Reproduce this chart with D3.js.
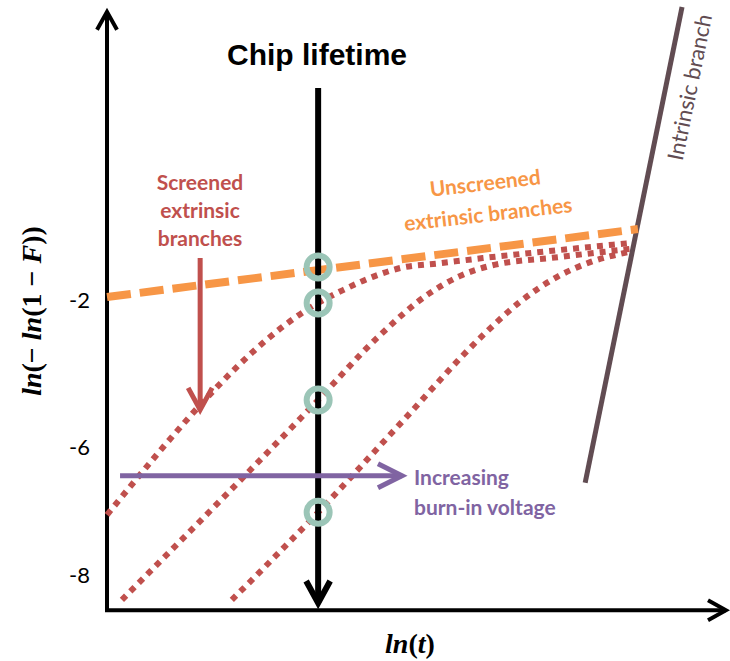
<!DOCTYPE html>
<html>
<head>
<meta charset="utf-8">
<script src="https://cdn.jsdelivr.net/npm/d3@7"></script>
<style>
  body { margin: 0; background: #fff; }
</style>
</head>
<body>
<svg id="drawing_region"></svg>
<script>
// y tick labels
const yTicks = [-2, -6, -8];

// axis extents in data units (ln t, ln(-ln(1-F)))
const tRange = [0, 10];
const yRange = [-8.55, 5.95];

// unscreened extrinsic branch (dashed orange)
const unscreened = [
    {t: 0.00, y: -1.92},
    {t: 8.55, y: -0.07}
];

// screened extrinsic branches (red dotted), one per burn-in voltage
const screened1 = [
    {t: 0.00, y: -7.06}, {t: 3.40, y: -2.08}, {t: 3.80, y: -1.73},
    {t: 4.28, y: -1.37}, {t: 4.72, y: -1.13}, {t: 5.36, y: -1.00},
    {t: 6.05, y: -0.86}, {t: 7.29, y: -0.64}, {t: 8.42, y: -0.45}
];
const screened2 = [
    {t: 0.24, y: -8.39}, {t: 3.40, y: -4.72}, {t: 4.35, y: -3.03},
    {t: 5.20, y: -1.81}, {t: 5.68, y: -1.35}, {t: 6.17, y: -1.07},
    {t: 7.29, y: -0.83}, {t: 8.42, y: -0.61}
];
const screened3 = [
    {t: 2.01, y: -8.39}, {t: 3.40, y: -7.02}, {t: 4.72, y: -5.37},
    {t: 6.09, y: -2.90}, {t: 6.65, y: -2.05}, {t: 7.25, y: -1.37},
    {t: 7.78, y: -0.97}, {t: 8.42, y: -0.69}
];

// intrinsic branch
const intrinsic = [
    {t: 7.70, y: -6.56},
    {t: 9.26, y: 5.97}
];

// chip lifetime and where the branches cross it
const chipLifetime = 3.40;
const chipSpan = [3.77, -8.50];
const crossings = [-1.10, -2.08, -4.72, -7.02];

// annotation arrows
const screenArrow = [{t: 1.50, y: -0.86}, {t: 1.50, y: -4.99}];
const voltageArrow = [{t: 0.21, y: -6.45}, {t: 4.75, y: -6.45}];

class SchematicChart {

    constructor( config ) {
        this.config = {
            parent: config.parent,
            width: config.width || 730,
            height: config.height || 661
        }
        this.init();
    }

    init() {
        let self = this;

        self.svg = d3.select(self.config.parent)
            .attr('width', self.config.width)
            .attr('height', self.config.height);

        self.xscale = d3.scaleLinear()
            .domain(tRange)
            .range([107, 728]);

        // the source axis is not evenly spaced: -8..-6 is stretched
        self.yscale = d3.scaleLinear()
            .domain([-8, -6, 6])
            .range([575, 447, 6]);

        self.line = d3.line()
            .x(d => self.xscale(d.t))
            .y(d => self.yscale(d.y));

        self.curve = d3.line()
            .x(d => self.xscale(d.t))
            .y(d => self.yscale(d.y))
            .curve(d3.curveMonotoneX);

        let defs = self.svg.append('defs');
        const heads = [
            {id: 'head-black', color: '#000', w: 4, len: 18, half: 10},
            {id: 'head-chip', color: '#000', w: 6, len: 22, half: 12},
            {id: 'head-red', color: '#c0504d', w: 5, len: 22, half: 12},
            {id: 'head-purple', color: '#8064a2', w: 5, len: 24, half: 12}
        ];
        heads.forEach(h => {
            defs.append('marker')
                .attr('id', h.id)
                .attr('viewBox', '-40 -25 50 50')
                .attr('markerWidth', 50)
                .attr('markerHeight', 50)
                .attr('refX', 0)
                .attr('refY', 0)
                .attr('markerUnits', 'userSpaceOnUse')
                .attr('orient', 'auto')
                .append('path')
                .attr('d', `M${-h.len},${-h.half} L0,0 L${-h.len},${h.half}`)
                .attr('fill', 'none')
                .attr('stroke', h.color)
                .attr('stroke-width', h.w)
                .attr('stroke-linejoin', 'miter');
        });
    }

    render() {
        let self = this;
        let x = self.xscale, y = self.yscale;

        // axes
        self.svg.append('line')
            .attr('x1', x(tRange[0])).attr('y1', y(yRange[0]))
            .attr('x2', x(tRange[0])).attr('y2', y(yRange[1]) + 4)
            .attr('stroke', '#000').attr('stroke-width', 4)
            .attr('marker-end', 'url(#head-black)');
        self.svg.append('line')
            .attr('x1', x(tRange[0]) - 2).attr('y1', y(yRange[0]))
            .attr('x2', x(tRange[1]) - 2).attr('y2', y(yRange[0]))
            .attr('stroke', '#000').attr('stroke-width', 4)
            .attr('marker-end', 'url(#head-black)');

        let yaxis = d3.axisLeft(y)
            .tickValues(yTicks)
            .tickSize(0)
            .tickPadding(17)
            .tickFormat(d => String(d));
        let ag = self.svg.append('g')
            .attr('transform', `translate(${x(tRange[0])},0)`)
            .call(yaxis);
        ag.select('.domain').remove();
        ag.selectAll('text')
            .attr('font-family', 'Lato, sans-serif')
            .attr('font-size', 22)
            .attr('fill', '#000');

        // axis titles
        let ylab = self.svg.append('text')
            .attr('transform', 'translate(41,311) rotate(-90)')
            .attr('text-anchor', 'middle')
            .attr('font-family', '"Liberation Serif", serif')
            .attr('font-weight', 'bold')
            .attr('font-size', 28);
        [['ln', true], ['(\u2212 ', false], ['ln', true], ['(1 \u2212 ', false], ['F', true], ['))', false]]
            .forEach(p => ylab.append('tspan').text(p[0]).attr('font-style', p[1] ? 'italic' : 'normal'));

        let xlab = self.svg.append('text')
            .attr('x', 410).attr('y', 653)
            .attr('text-anchor', 'middle')
            .attr('font-family', '"Liberation Serif", serif')
            .attr('font-weight', 'bold')
            .attr('font-size', 28);
        [['ln', true], ['(', false], ['t', true], [')', false]]
            .forEach(p => xlab.append('tspan').text(p[0]).attr('font-style', p[1] ? 'italic' : 'normal'));

        // intrinsic branch
        self.svg.append('path')
            .attr('d', self.line(intrinsic))
            .attr('fill', 'none')
            .attr('stroke', '#614c52')
            .attr('stroke-width', 5);

        // screened branches
        self.svg.selectAll('.screened')
            .data([screened1, screened2, screened3])
            .enter()
            .append('path')
            .attr('class', 'screened')
            .attr('d', self.curve)
            .attr('fill', 'none')
            .attr('stroke', '#c0504d')
            .attr('stroke-width', 6)
            .attr('stroke-dasharray', '6 6');

        // unscreened branch
        self.svg.append('path')
            .attr('d', self.line(unscreened))
            .attr('fill', 'none')
            .attr('stroke', '#f79646')
            .attr('stroke-width', 8)
            .attr('stroke-dasharray', '24 9');

        // chip lifetime arrow
        self.svg.append('line')
            .attr('x1', x(chipLifetime)).attr('y1', y(chipSpan[0]))
            .attr('x2', x(chipLifetime)).attr('y2', y(chipSpan[1]) - 4)
            .attr('stroke', '#000').attr('stroke-width', 6)
            .attr('marker-end', 'url(#head-chip)');

        self.svg.selectAll('.cross')
            .data(crossings)
            .enter()
            .append('circle')
            .attr('class', 'cross')
            .attr('cx', x(chipLifetime))
            .attr('cy', d => y(d))
            .attr('r', 11.5)
            .attr('fill', 'none')
            .attr('stroke', '#9bc5b7')
            .attr('stroke-width', 6);

        // annotation arrows
        self.svg.append('path')
            .attr('d', self.line(screenArrow))
            .attr('stroke', '#c0504d').attr('stroke-width', 5)
            .attr('marker-end', 'url(#head-red)');
        self.svg.append('path')
            .attr('d', self.line(voltageArrow))
            .attr('stroke', '#8064a2').attr('stroke-width', 5)
            .attr('marker-end', 'url(#head-purple)');

        // labels
        self.svg.append('text')
            .attr('x', 317).attr('y', 65)
            .attr('text-anchor', 'middle')
            .attr('font-family', '"Liberation Sans", Arial, sans-serif')
            .attr('font-weight', 'bold')
            .attr('font-size', 30)
            .text('Chip lifetime');

        self.svg.selectAll('.scr-label')
            .data(['Screened', 'extrinsic', 'branches'])
            .enter()
            .append('text')
            .attr('x', 200)
            .attr('y', (d, i) => 190 + i * 28)
            .attr('text-anchor', 'middle')
            .attr('font-family', 'Lato, sans-serif')
            .attr('font-weight', 'bold')
            .attr('font-size', 21)
            .attr('fill', '#c0504d')
            .text(d => d);

        [['Unscreened', 485, 182], ['extrinsic branches', 488, 213]].forEach(l => {
            self.svg.append('text')
                .attr('transform', `translate(${l[1]},${l[2]}) rotate(-6.5)`)
                .attr('text-anchor', 'middle')
                .attr('dominant-baseline', 'central')
                .attr('font-family', 'Lato, sans-serif')
                .attr('font-weight', 'bold')
                .attr('font-size', 21)
                .attr('fill', '#f79646')
                .text(l[0]);
        });

        [['Increasing', 485], ['burn-in voltage', 515]].forEach(l => {
            self.svg.append('text')
                .attr('x', 414).attr('y', l[1])
                .attr('font-family', 'Lato, sans-serif')
                .attr('font-weight', 'bold')
                .attr('font-size', 21)
                .attr('fill', '#8064a2')
                .text(l[0]);
        });

        self.svg.append('text')
            .attr('transform', 'translate(689,87) rotate(-78.5)')
            .attr('text-anchor', 'middle')
            .attr('dominant-baseline', 'central')
            .attr('font-family', 'Lato, sans-serif')
            .attr('font-size', 22)
            .attr('fill', '#614c52')
            .text('Intrinsic branch');
    }
}

let chart = new SchematicChart({ parent: '#drawing_region', width: 730, height: 661 });
chart.render();
</script>
</body>
</html>
